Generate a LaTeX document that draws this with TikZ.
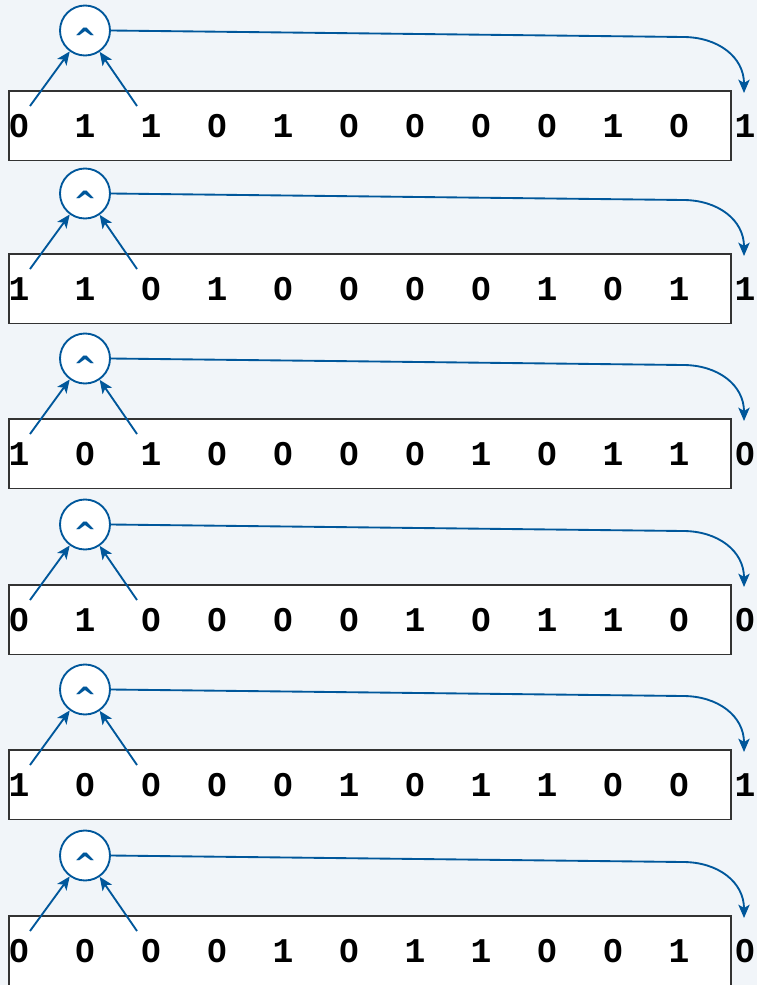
\documentclass[tikz,border=0pt]{standalone}
\usepackage{fontspec}
\newfontfamily\monob{Liberation Mono}
\newfontfamily\caretfont{DejaVu Sans}
\usetikzlibrary{arrows.meta}
\definecolor{bgcol}{RGB}{241,245,249}
\definecolor{lblue}{RGB}{0,87,155}
\definecolor{boxline}{RGB}{51,51,51}
\tikzset{
  bitbox/.style={draw=boxline,fill=white,line width=0.8pt},
  bit/.style={font=\monob\bfseries\fontsize{26}{26}\selectfont,anchor=base,inner sep=0pt,text=black},
  opcircle/.style={circle,draw=lblue,fill=white,line width=1.4pt,minimum size=37.5pt,inner sep=0pt},
  opsym/.style={font=\caretfont\bfseries\fontsize{21}{21}\selectfont,text=lblue,anchor=base,inner sep=0pt},
  flow/.style={draw=lblue,line width=1.4pt,-{Stealth[length=10pt,width=8.5pt,inset=2.5pt]}},
  plainzero/.style={draw=none}
}
\begin{document}
\begin{tikzpicture}[x=0.75pt,y=-0.75pt]
\fill[bgcol] (0,0) rectangle (757,985);
\useasboundingbox (0,0) rectangle (757,985);
\clip (0,0) rectangle (757,985);
\foreach \T/\bits [count=\r] in {
  91/{0,1,1,0,1,0,0,0,0,1,0,1},
  254/{1,1,0,1,0,0,0,0,1,0,1,1},
  419/{1,0,1,0,0,0,0,1,0,1,1,0},
  585/{0,1,0,0,0,0,1,0,1,1,0,0},
  750/{1,0,0,0,0,1,0,1,1,0,0,1},
  916/{0,0,0,0,1,0,1,1,0,0,1,0}}{
  \draw[bitbox] (9,\T) rectangle (731,{\T+69.5});
  \foreach \b [count=\i from 0] in \bits {
    \node[bit] (d\r-\i) at ({19+66*\i},{\T+46.5}) {\b};
    \ifnum\b=0
      \ifnum\i<11 \def\zfill{white}\else \def\zfill{bgcol}\fi
      \fill[plainzero,fill=\zfill] ([xshift=-1.8pt,yshift=6.5pt]d\r-\i.base) rectangle ([xshift=1.8pt,yshift=11.2pt]d\r-\i.base);
    \fi
  }
  \node[opcircle] (c\r) at (85,{\T-60.5}) {};
  \node[opsym] (s\r) at (85,{\T-60.5+18}) {\^{}};
  \coordinate (a\r) at (30,{\T+15});
  \coordinate (b\r) at (137,{\T+15});
  \coordinate (k\r) at (683,{\T-54});
  \coordinate (e\r) at (744,{\T+2});
  \draw[flow] (a\r) -- (c\r);
  \draw[flow] (b\r) -- (c\r);
  \draw[flow] (c\r.east) -- (k\r) .. controls (718,{\T-54}) and (744,{\T-34}) .. (e\r);
}
\end{tikzpicture}
\end{document}
